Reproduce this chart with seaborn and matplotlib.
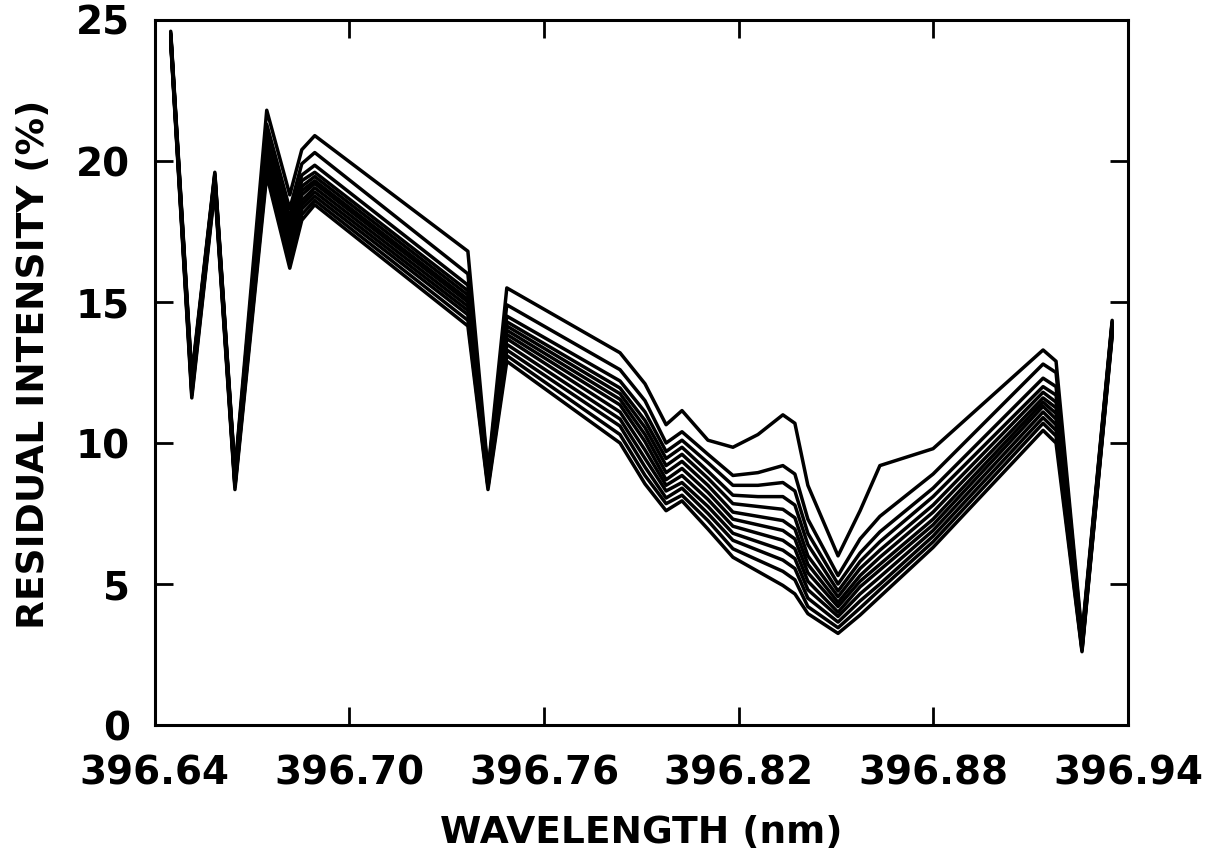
import pandas as pd
import matplotlib
matplotlib.use("Agg")
import matplotlib.pyplot as plt
import seaborn as sns

# wavelength nodes (nm)
wavelength = [396.6449, 396.6514, 396.6585, 396.6647, 396.6745, 396.6816, 396.6853,
              396.6893, 396.7365, 396.7427, 396.7485, 396.7834, 396.7911, 396.7976,
              396.8025, 396.8105, 396.8182, 396.8259, 396.8336, 396.8373, 396.8413,
              396.8506, 396.8574, 396.8635, 396.8799, 396.9138, 396.9178, 396.9258,
              396.9351]

# residual intensity (%) of each scan, top curve first
scan_01 = [24.6, 12.4, 19.6, 9.0, 21.8, 18.8, 20.4, 20.9, 16.8, 9.0, 15.5, 13.2, 12.1, 10.65, 11.15,
           10.1, 9.85, 10.3, 11.0, 10.7, 8.5, 6.0, 7.6, 9.2, 9.8, 13.3, 12.9, 3.2, 14.35]
scan_02 = [24.55, 12.3, 19.55, 8.95, 21.3, 18.3, 19.9, 20.3, 16.0, 8.95, 14.9, 12.6, 11.5, 10.0, 10.4,
           9.6, 8.85, 8.95, 9.2, 8.9, 7.3, 5.3, 6.6, 7.4, 8.9, 12.8, 12.5, 3.1, 14.3]
scan_03 = [24.5, 12.25, 19.5, 8.9, 21.0, 18.0, 19.5, 19.85, 15.6, 8.9, 14.5, 12.2, 11.1, 9.7, 10.1,
           9.3, 8.5, 8.5, 8.6, 8.3, 6.8, 5.0, 6.1, 6.85, 8.4, 12.3, 12.0, 3.05, 14.25]
scan_04 = [24.5, 12.2, 19.45, 8.85, 20.8, 17.8, 19.3, 19.6, 15.4, 8.85, 14.3, 11.95, 10.8, 9.45, 9.85,
           9.0, 8.15, 8.1, 8.1, 7.8, 6.4, 4.75, 5.8, 6.5, 8.1, 12.0, 11.7, 3.0, 14.2]
scan_05 = [24.45, 12.1, 19.4, 8.8, 20.6, 17.6, 19.1, 19.45, 15.25, 8.8, 14.15, 11.75, 10.55, 9.2, 9.6,
           8.75, 7.85, 7.75, 7.65, 7.35, 6.0, 4.55, 5.55, 6.2, 7.8, 11.8, 11.45, 2.95, 14.15]
scan_06 = [24.4, 12.05, 19.35, 8.7, 20.4, 17.4, 18.95, 19.3, 15.1, 8.75, 14.0, 11.55, 10.3, 8.95, 9.35,
           8.5, 7.55, 7.4, 7.25, 6.95, 5.7, 4.35, 5.3, 5.95, 7.55, 11.6, 11.25, 2.9, 14.1]
scan_07 = [24.4, 12.0, 19.3, 8.65, 20.25, 17.2, 18.8, 19.2, 15.0, 8.7, 13.85, 11.35, 10.05, 8.7, 9.1,
           8.25, 7.3, 7.1, 6.9, 6.6, 5.4, 4.2, 5.1, 5.7, 7.3, 11.45, 11.05, 2.85, 14.05]
scan_08 = [24.35, 11.9, 19.25, 8.6, 20.1, 17.0, 18.6, 19.05, 14.85, 8.6, 13.7, 11.1, 9.75, 8.5, 8.85,
           8.0, 7.05, 6.8, 6.55, 6.25, 5.1, 4.0, 4.9, 5.5, 7.1, 11.3, 10.85, 2.8, 14.0]
scan_09 = [24.3, 11.85, 19.2, 8.55, 20.0, 16.8, 18.45, 18.9, 14.7, 8.55, 13.5, 10.85, 9.45, 8.3, 8.6,
           7.75, 6.8, 6.5, 6.2, 5.9, 4.8, 3.85, 4.65, 5.25, 6.9, 11.1, 10.65, 2.75, 13.95]
scan_10 = [24.3, 11.8, 19.15, 8.5, 19.85, 16.6, 18.3, 18.75, 14.55, 8.5, 13.3, 10.6, 9.15, 8.05, 8.4,
           7.5, 6.55, 6.2, 5.85, 5.55, 4.5, 3.65, 4.4, 5.0, 6.7, 10.9, 10.45, 2.7, 13.9]
scan_11 = [24.25, 11.7, 19.1, 8.45, 19.7, 16.4, 18.1, 18.6, 14.35, 8.45, 13.1, 10.3, 8.85, 7.85, 8.15,
           7.25, 6.25, 5.85, 5.45, 5.15, 4.2, 3.45, 4.15, 4.8, 6.5, 10.7, 10.25, 2.65, 13.85]
scan_12 = [24.2, 11.6, 19.0, 8.35, 19.5, 16.2, 17.9, 18.45, 14.15, 8.35, 12.9, 10.0, 8.55, 7.6, 7.95,
           6.95, 5.95, 5.45, 4.95, 4.65, 3.95, 3.25, 3.9, 4.55, 6.3, 10.45, 10.0, 2.6, 13.8]

x_ticks = [396.64, 396.70, 396.76, 396.82, 396.88, 396.94]
x_ticklabels = ["396.64", "396.70", "396.76", "396.82", "396.88", "396.94"]
y_ticks = [0, 5, 10, 15, 20, 25]

scans = [scan_01, scan_02, scan_03, scan_04, scan_05, scan_06,
         scan_07, scan_08, scan_09, scan_10, scan_11, scan_12]

# long format for seaborn
rows = []
for i, scan in enumerate(scans):
    for w, v in zip(wavelength, scan):
        rows.append({"scan": i, "wavelength": w, "intensity": v})
df = pd.DataFrame(rows)

sns.set_style("ticks")
plt.rcParams["font.family"] = ["DejaVu Sans"]
plt.rcParams["font.weight"] = "bold"
plt.rcParams["text.color"] = "black"
plt.rcParams["axes.labelcolor"] = "black"
plt.rcParams["xtick.color"] = "black"
plt.rcParams["ytick.color"] = "black"

fig, ax = plt.subplots(figsize=(12.19, 8.51), dpi=100)
fig.subplots_adjust(left=0.127, right=0.9254, bottom=0.148, top=0.9765)

sns.lineplot(data=df, x="wavelength", y="intensity", units="scan",
             estimator=None, color="black", linewidth=2.5, ax=ax)

ax.set_xlim(396.64, 396.94)
ax.set_ylim(0, 25)
ax.set_xticks(x_ticks)
ax.set_xticklabels(x_ticklabels)
ax.set_yticks(y_ticks)

ax.tick_params(axis="x", direction="in", length=13, width=2, labelsize=28,
               pad=21, top=True, bottom=True)
ax.tick_params(axis="y", direction="in", length=13, width=2, labelsize=28,
               pad=18, left=True, right=True)
for lab in ax.get_xticklabels() + ax.get_yticklabels():
    lab.set_fontweight("bold")

for sp in ax.spines.values():
    sp.set_visible(True)
    sp.set_linewidth(2.2)
    sp.set_color("black")

ax.set_xlabel("WAVELENGTH (nm)", fontsize=27, fontweight="bold")
ax.set_ylabel("RESIDUAL INTENSITY (%)", fontsize=27, fontweight="bold")
ax.xaxis.set_label_coords(0.5, -0.128)
ax.yaxis.set_label_coords(-0.106, 0.511)

fig.savefig("out.png", dpi=100)
